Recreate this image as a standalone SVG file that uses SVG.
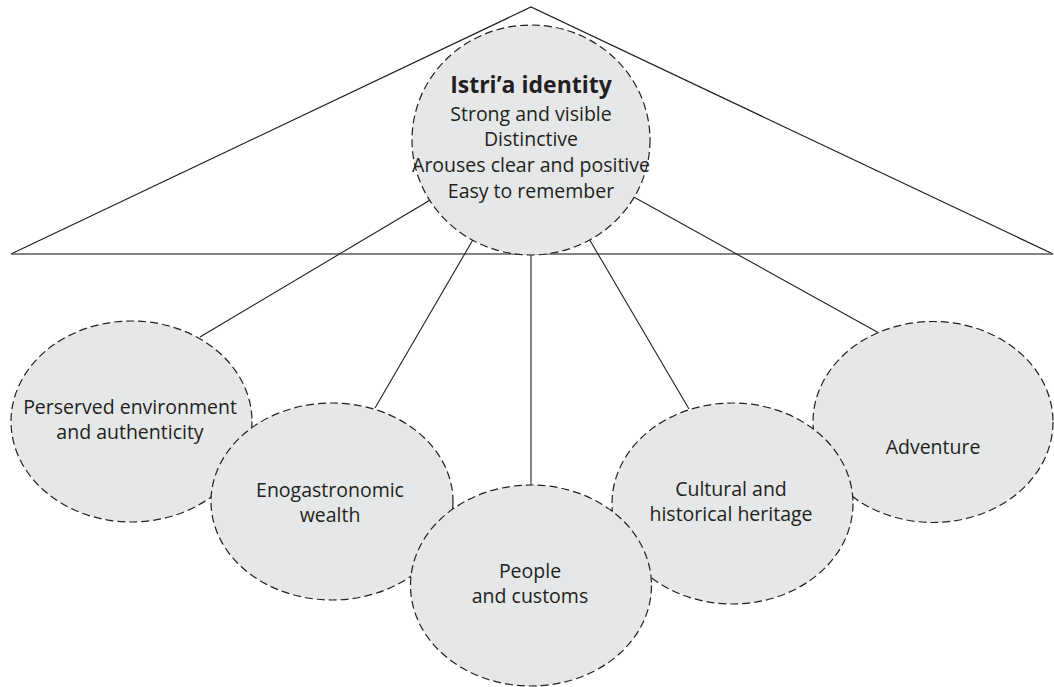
<svg xmlns="http://www.w3.org/2000/svg" width="1054" height="687" viewBox="0 0 1054 687">
  <style>
    .bubble { fill: #e6e7e8; stroke: #231f20; stroke-width: 1.2; stroke-dasharray: 8 4; }
    .link { stroke: #231f20; stroke-width: 1.1; fill: none; }
    .frame { stroke: #231f20; stroke-width: 1.2; fill: none; }
    .base { stroke: #5a5a5a; stroke-width: 1.6; }
    text { font-family: "Open Sans", "Noto Sans", "DejaVu Sans", sans-serif; font-size: 19.5px; fill: #231f20; text-anchor: middle; }
    .title { font-weight: bold; font-size: 23px; }
  </style>
  <rect width="1054" height="687" fill="#ffffff"/>

  <!-- roof triangle and base line -->
  <g id="roof">
    <polyline class="frame" points="11,254 531,7 1053,254"/>
    <line class="base" x1="11" y1="254" x2="1053" y2="254"/>
  </g>

  <!-- spokes from the identity hub to each theme -->
  <g id="connectors">
    <line class="link" x1="531" y1="140" x2="200" y2="337"/>
    <line class="link" x1="531" y1="140" x2="375" y2="408"/>
    <line class="link" x1="531" y1="140" x2="531" y2="486"/>
    <line class="link" x1="531" y1="140" x2="689" y2="409"/>
    <line class="link" x1="531" y1="140" x2="888" y2="338"/>
  </g>

  <g id="identity">
    <ellipse class="bubble" cx="531" cy="140" rx="119" ry="115"/>
    <text class="title" x="531" y="93">Istri’a identity</text>
    <text x="531" y="121">Strong and visible</text>
    <text x="531" y="146">Distinctive</text>
    <text x="531" y="172">Arouses clear and positive</text>
    <text x="531" y="198">Easy to remember</text>
  </g>

  <g id="environment">
    <ellipse class="bubble" cx="131.5" cy="421.5" rx="120.5" ry="100.5"/>
    <text x="130" y="414">Perserved environment</text>
    <text x="130" y="439">and authenticity</text>
  </g>

  <g id="adventure">
    <ellipse class="bubble" cx="933" cy="422" rx="120" ry="100.5"/>
    <text x="933" y="454">Adventure</text>
  </g>

  <g id="enogastronomy">
    <ellipse class="bubble" cx="332" cy="501.5" rx="121" ry="98.5"/>
    <text x="330" y="497">Enogastronomic</text>
    <text x="330" y="522">wealth</text>
  </g>

  <g id="heritage">
    <ellipse class="bubble" cx="732.5" cy="503.5" rx="120.5" ry="100.5"/>
    <text x="731" y="496">Cultural and</text>
    <text x="731" y="521">historical heritage</text>
  </g>

  <g id="people">
    <ellipse class="bubble" cx="531" cy="585.5" rx="120.5" ry="100.5"/>
    <text x="530" y="578">People</text>
    <text x="530" y="603">and customs</text>
  </g>
</svg>
